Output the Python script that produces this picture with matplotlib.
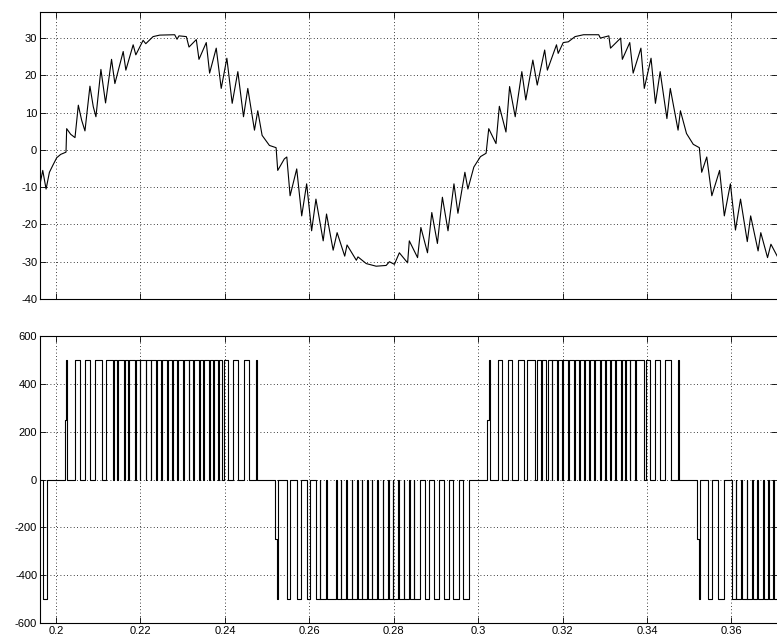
import matplotlib
matplotlib.use("Agg")
import matplotlib.pyplot as plt

plt.rcParams['font.family'] = ['Liberation Sans', 'DejaVu Sans']
plt.rcParams['axes.unicode_minus'] = False

# inverter output current (vertices)
cur_t = [0.19622, 0.19685, 0.19764, 0.19843, 0.19921, 0.20016, 0.20110, 0.20236,
         0.20252, 0.20346, 0.20449, 0.20528, 0.20606, 0.20685, 0.20803, 0.20882,
         0.20945, 0.21063, 0.21142, 0.21173, 0.21315, 0.21394, 0.21591, 0.21654,
         0.21827, 0.21890, 0.22063, 0.22126, 0.22299, 0.22457, 0.22811, 0.22866,
         0.22913, 0.23087, 0.23150, 0.23323, 0.23386, 0.23559, 0.23638, 0.23795,
         0.23913, 0.24047, 0.24173, 0.24307, 0.24441, 0.24543, 0.24701, 0.24779,
         0.24882, 0.25055, 0.25213, 0.25252, 0.25409, 0.25467, 0.25545, 0.25702,
         0.25820, 0.25937, 0.26055, 0.26157, 0.26329, 0.26408, 0.26565, 0.26659,
         0.26839, 0.26894, 0.27114, 0.27153, 0.27349, 0.27584, 0.27820, 0.27898,
         0.28016, 0.28133, 0.28329, 0.28369, 0.28565, 0.28643, 0.28800, 0.28902,
         0.29035, 0.29153, 0.29286, 0.29427, 0.29521, 0.29686, 0.29757, 0.29898,
         0.30055, 0.30188, 0.30251, 0.30423, 0.30502, 0.30659, 0.30745, 0.30878,
         0.31035, 0.31129, 0.31296, 0.31400, 0.31576, 0.31640, 0.31856, 0.31896,
         0.32016, 0.32136, 0.32296, 0.32496, 0.32856, 0.32896, 0.33096, 0.33136,
         0.33376, 0.33416, 0.33592, 0.33672, 0.33856, 0.33936, 0.34096, 0.34200,
         0.34312, 0.34472, 0.34552, 0.34736, 0.34792, 0.34936, 0.35096, 0.35240,
         0.35296, 0.35416, 0.35536, 0.35720, 0.35832, 0.35976, 0.36096, 0.36216,
         0.36376, 0.36456, 0.36632, 0.36696, 0.36856, 0.36936, 0.37136]
cur_v = [-9.1, -5.5, -10.5, -6.0, -4.2, -2.1, -1.2, -0.6,
         5.7, 4.2, 3.3, 12.0, 8.0, 5.1, 17.1, 11.6,
         8.9, 21.6, 15.2, 12.6, 24.3, 17.8, 26.4, 21.4,
         28.2, 25.5, 29.4, 28.5, 30.4, 30.8, 30.9, 29.7,
         30.6, 30.4, 27.6, 29.6, 24.3, 28.8, 20.6, 27.3,
         16.5, 24.6, 12.5, 21.0, 8.9, 16.5, 5.3, 10.5,
         3.9, 1.2, 0.6, -5.5, -2.4, -1.9, -12.3, -5.1,
         -17.7, -9.1, -21.7, -13.2, -24.4, -17.2, -26.9, -22.2,
         -28.5, -25.5, -29.6, -28.7, -30.5, -31.2, -31.0, -30.0,
         -30.7, -27.6, -30.3, -24.4, -28.9, -20.8, -27.6, -16.8,
         -25.1, -12.7, -21.7, -9.1, -17.0, -6.0, -10.5, -4.6,
         -1.8, -0.9, 5.7, 1.7, 11.7, 4.8, 17.0, 8.9,
         21.0, 13.4, 24.1, 17.4, 26.8, 21.4, 28.2, 25.9,
         28.8, 29.0, 30.4, 30.9, 30.9, 30.0, 30.6, 27.3,
         30.0, 24.3, 28.8, 20.6, 27.3, 16.5, 24.6, 12.5,
         21.0, 8.4, 16.5, 5.3, 10.5, 4.4, 1.5, 0.6,
         -6.0, -1.9, -12.3, -5.5, -17.7, -9.1, -21.5, -13.2,
         -24.6, -17.7, -27.1, -22.2, -28.9, -25.3, -29.6]

# inverter output voltage: switching instants of each half cycle
vdc = 500
half_sign = [-1, 1, -1, 1, -1]
half_step = [None, 0.20213, 0.25190, 0.30208, 0.35185]   # 250 V pre-step
half_edges = [
    [0.19685, 0.19780],
    [0.20242, 0.20261, 0.20450, 0.20569, 0.20687, 0.20806, 0.20924, 0.21083, 0.21178,
     0.21344, 0.21372, 0.21446, 0.21460, 0.21604, 0.21633, 0.21706, 0.21721,
     0.21875, 0.21903, 0.21984, 0.21998, 0.22126, 0.22140, 0.22244, 0.22259,
     0.22379, 0.22394, 0.22498, 0.22512, 0.22631, 0.22645, 0.22749, 0.22763,
     0.22877, 0.22891, 0.23010, 0.23024, 0.23145, 0.23159, 0.23247, 0.23261,
     0.23382, 0.23410, 0.23484, 0.23498, 0.23621, 0.23645, 0.23721, 0.23735,
     0.23839, 0.23854, 0.23940, 0.23976,
     0.24084, 0.24202, 0.24321, 0.24456, 0.24567, 0.24745, 0.24764],
    [0.25228, 0.25252, 0.25468, 0.25546, 0.25705, 0.25807, 0.25942, 0.26020, 0.26162,
     0.26250, 0.26264, 0.26401, 0.26420, 0.26622, 0.26650, 0.26747, 0.26762,
     0.26875, 0.26904, 0.27008, 0.27022, 0.27134, 0.27148, 0.27245, 0.27259,
     0.27371, 0.27385, 0.27482, 0.27496, 0.27608, 0.27622, 0.27743, 0.27757,
     0.27861, 0.27890, 0.27980, 0.27994, 0.28098, 0.28127, 0.28240, 0.28255,
     0.28359, 0.28387, 0.28477, 0.28492,
     0.28627, 0.28745, 0.28840, 0.28959, 0.29084, 0.29196, 0.29321, 0.29416,
     0.29535, 0.29639, 0.29788],
    [0.30246, 0.30269, 0.30459, 0.30563, 0.30705, 0.30800, 0.30933, 0.31075, 0.31156,
     0.31355, 0.31383, 0.31487, 0.31502, 0.31615, 0.31644, 0.31741, 0.31755,
     0.31867, 0.31895, 0.31992, 0.32006, 0.32134, 0.32149, 0.32269, 0.32284,
     0.32388, 0.32402, 0.32514, 0.32528, 0.32632, 0.32646, 0.32751, 0.32765,
     0.32886, 0.32900, 0.33004, 0.33018, 0.33123, 0.33137, 0.33241, 0.33255,
     0.33376, 0.33405, 0.33478, 0.33492, 0.33590, 0.33604, 0.33715, 0.33729,
     0.33919, 0.33976, 0.34078, 0.34180, 0.34298, 0.34433, 0.34559, 0.34737, 0.34756],
    [0.35223, 0.35246, 0.35445, 0.35540, 0.35682, 0.35832, 0.36014,
     0.36099, 0.36118, 0.36227, 0.36242, 0.36358, 0.36381, 0.36488, 0.36502,
     0.36607, 0.36635, 0.36749, 0.36763, 0.36867, 0.36896, 0.36986, 0.37000],
]

t_start, t_end = 0.1962, 0.3715

# build the step trace
vt, vv = [t_start], [0]
for sgn, step, edges in zip(half_sign, half_step, half_edges):
    if step is not None:
        vt.append(step)
        vv.append(sgn * vdc / 2)
    for k, te in enumerate(edges):
        vt.append(te)
        vv.append(sgn * vdc if k % 2 == 0 else 0)
vt.append(t_end)
vv.append(vv[-1])

W, H = 777, 641
fig = plt.figure(figsize=(W / 100, H / 100), dpi=100)
ax1 = fig.add_axes([40 / W, (H - 299) / H, 737 / W, 287 / H])
ax2 = fig.add_axes([40 / W, (H - 623) / H, 737 / W, 287 / H])

ax1.plot(cur_t, cur_v, color='k', lw=0.8)
ax2.plot(vt, vv, color='k', lw=0.8, drawstyle='steps-post')

xt = [0.2, 0.22, 0.24, 0.26, 0.28, 0.3, 0.32, 0.34, 0.36]
for ax in (ax1, ax2):
    ax.set_xlim(0.1962, 0.3708)
    ax.set_xticks(xt)
    ax.grid(True, color='k', linestyle=(0, (1, 3)), linewidth=0.6)
    ax.tick_params(direction='in', length=4, width=0.6, labelsize=8,
                   top=True, right=True, pad=2)
    for s in ax.spines.values():
        s.set_linewidth(0.8)
    ax.spines['right'].set_visible(False)

ax1.set_ylim(-40, 37)
ax1.set_yticks(range(-40, 31, 10))
ax1.set_xticklabels([])

ax2.set_ylim(-600, 600)
ax2.set_yticks(range(-600, 601, 200))
ax2.set_xticklabels(['0.2', '0.22', '0.24', '0.26', '0.28', '0.3', '0.32', '0.34', '0.36'])

fig.savefig('out.png', dpi=100)
